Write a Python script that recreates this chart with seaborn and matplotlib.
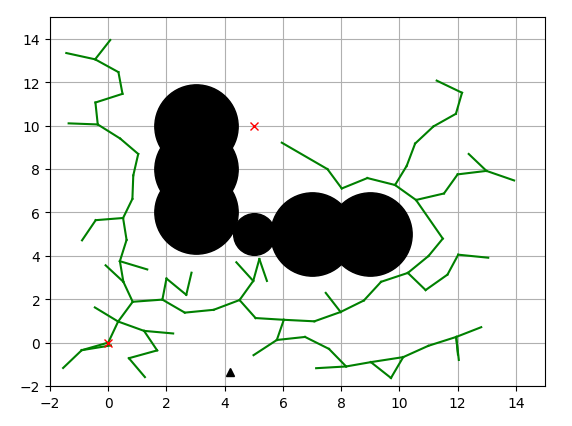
import numpy as np
import pandas as pd
import seaborn as sns
from matplotlib import pyplot as plt

# tree nodes
node_x = [0, -0.91, -1.55, 0.09, 0.34, -0.46, 0.84, 1.23, 2.23, 1.68,
          0.71, 1.26, 0.52, -0.09, 0.40, 1.34, 0.63, 0.51, -0.43, -0.90,
          0.83, 0.86, 1.03, 0.41, -0.36, -1.36, -0.44, 0.49, 0.35, -0.45,
          -1.44, 0.07, 1.86, 2.00, 2.68, 2.86, 2.63, 3.62, 4.51, 4.98,
          4.40, 5.19, 5.45, 5.06, 6.03, 7.08, 7.98, 7.47, 8.78, 9.37,
          10.29, 11.00, 11.49, 10.57, 9.85, 8.90, 8.02, 7.53, 5.96, 10.25,
          10.54, 11.17, 11.94, 12.15, 11.28, 11.53, 12.00, 12.99, 12.38, 13.94,
          10.90, 11.65, 12.02, 13.05, 5.79, 4.99, 6.76, 7.58, 8.17, 7.14,
          9.02, 10.13, 9.71, 10.99, 11.95, 12.81, 12.04, 12.01]
node_y = [0, -0.35, -1.17, -0.13, 0.97, 1.62, 1.88, 0.54, 0.42, -0.36,
          -0.72, -1.59, 2.80, 3.56, 3.75, 3.37, 4.73, 5.74, 5.64, 4.71,
          6.62, 7.70, 8.69, 9.40, 10.05, 10.10, 11.06, 11.46, 12.46, 13.05,
          13.34, 13.94, 1.98, 2.95, 2.20, 3.22, 1.38, 1.51, 1.96, 2.84,
          3.70, 3.85, 2.84, 1.13, 1.05, 0.98, 1.41, 2.29, 1.94, 2.80,
          3.21, 3.99, 4.79, 6.57, 7.26, 7.58, 7.10, 7.99, 9.21, 8.14,
          9.17, 9.96, 10.54, 11.51, 12.07, 6.87, 7.75, 7.91, 8.69, 7.47,
          2.42, 3.13, 4.05, 3.91, 0.12, -0.58, 0.26, -0.29, -1.10, -1.18,
          -0.90, -0.67, -1.63, -0.15, 0.26, 0.71, -0.80, -0.55]

edge_from = [0, 1, 1, 0, 4, 4, 4, 7, 7, 9, 10, 6, 12, 12, 14, 14, 16, 17, 18, 17,
             20, 21, 22, 23, 24, 24, 26, 27, 28, 29, 29, 6, 32, 33, 34, 32, 36, 37, 38, 39,
             39, 41, 38, 43, 44, 45, 46, 46, 48, 49, 50, 51, 52, 53, 54, 55, 56, 57, 54, 59,
             60, 61, 62, 63, 53, 65, 66, 67, 67, 50, 70, 71, 72, 44, 74, 74, 76, 77, 78, 78,
             80, 81, 80, 81, 83, 84, 84, 84]
edge_to = [1, 2, 3, 4, 5, 6, 7, 8, 9, 10, 11, 12, 13, 14, 15, 16, 17, 18, 19, 20,
           21, 22, 23, 24, 25, 26, 27, 28, 29, 30, 31, 32, 33, 34, 35, 36, 37, 38, 39, 40,
           41, 42, 43, 44, 45, 46, 47, 48, 49, 50, 51, 52, 53, 54, 55, 56, 57, 58, 59, 60,
           61, 62, 63, 64, 65, 66, 67, 68, 69, 70, 71, 72, 73, 74, 75, 76, 77, 78, 79, 80,
           81, 82, 82, 83, 84, 85, 86, 87]

# obstacles (x, y, radius)
obs_x = [5, 3, 3, 3, 7, 9]
obs_y = [5, 6, 8, 10, 5, 5]
obs_r = [1, 2, 2, 2, 2, 2]

start = (0, 0)
goal = (5, 10)
rnd = (4.17, -1.36)

rows = []
for k, (a, b) in enumerate(zip(edge_from, edge_to)):
    rows.append({'edge': k, 'order': 0, 'x': node_x[a], 'y': node_y[a]})
    rows.append({'edge': k, 'order': 1, 'x': node_x[b], 'y': node_y[b]})
edges = pd.DataFrame(rows)

obstacles = pd.DataFrame({'x': obs_x, 'y': obs_y, 'r': obs_r})

fig = plt.figure(figsize=(5.72, 4.27), dpi=100)
ax = fig.add_axes([50 / 572, 1 - 387 / 427, 495 / 572, 369 / 427])

ax.plot(rnd[0], rnd[1], '^k')
sns.lineplot(data=edges, x='x', y='y', units='edge', estimator=None, sort=False,
             color='g', linewidth=1.5, ax=ax)
for _, o in obstacles.iterrows():
    ax.plot(o['x'], o['y'], 'ok', ms=30 * o['r'])
ax.plot(start[0], start[1], 'xr')
ax.plot(goal[0], goal[1], 'xr')

ax.set_xlim(-2, 15)
ax.set_ylim(-2, 15)
ax.set_xlabel('')
ax.set_ylabel('')
ax.set_xticks(np.arange(-2, 15, 2))
ax.set_yticks(np.arange(-2, 15, 2))
ax.grid(True)

fig.savefig('out.png', dpi=100)
